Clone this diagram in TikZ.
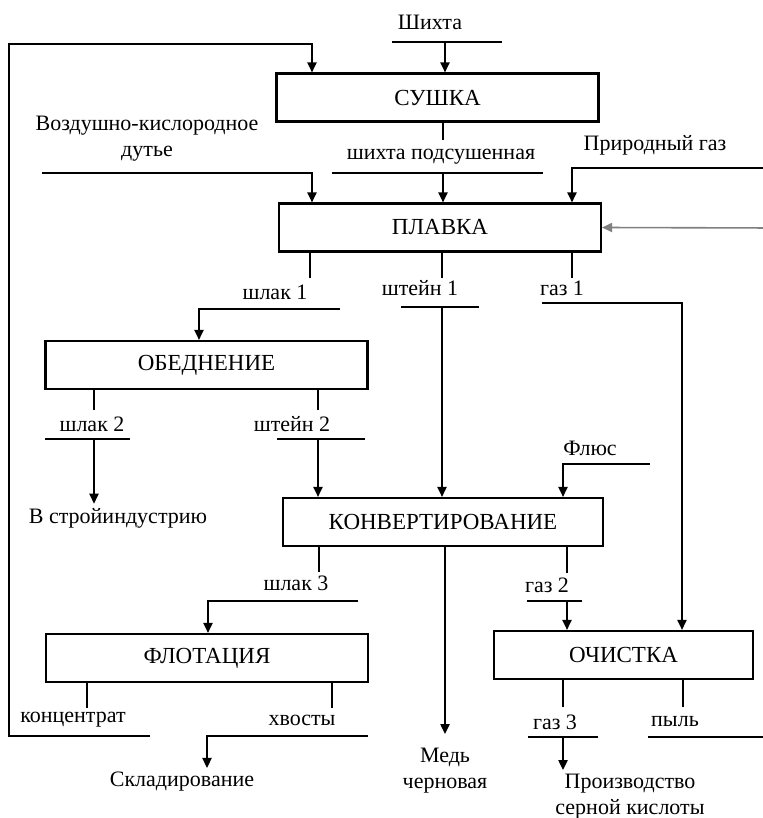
\documentclass[tikz,border=0pt]{standalone}
\usepackage{fontspec}
\setmainfont{Liberation Serif}
\usetikzlibrary{arrows.meta}

\begin{document}
\begin{tikzpicture}[
  x=0.5pt, y=-0.5pt,
  font=\fontsize{11}{13}\selectfont,
  box/.style={draw, line width=1.1pt, minimum width=161pt, minimum height=24pt, inner sep=0pt, font=\fontsize{11.5}{13}\selectfont},
  ln/.style={line width=0.8pt},
  arr/.style={-{Triangle[length=5pt,width=4.6pt]}},
  lbl/.style={inner sep=2pt, align=center}
]
\useasboundingbox (0,0) rectangle (763,818);
\clip (0,0) rectangle (763,818);

% process stages
\node[box] (sush) at (437.5,97.5) {СУШКА};
\node[box] (plav) at (440,227.5) {ПЛАВКА};
\node[box] (obed) at (206.5,365) {ОБЕДНЕНИЕ};
\node[box, minimum width=160pt] (konv) at (443,522) {КОНВЕРТИРОВАНИЕ};
\node[box] (flot) at (207,658) {ФЛОТАЦИЯ};
\node[box, minimum width=129.5pt] (ochi) at (623.5,655) {ОЧИСТКА};

% stream labels
\node[lbl] (shihta) at (430,22) {Шихта};
\node[lbl] (duty) at (147,139) {Воздушно-кислородное\\дутье};
\node[lbl] (podsush) at (441,157) {шихта подсушенная};
\node[lbl] (prgaz) at (655,145) {Природный газ};
\node[lbl] (shl1) at (275,292) {шлак 1};
\node[lbl] (sht1) at (420,288) {штейн 1};
\node[lbl] (gaz1) at (562,288) {газ 1};
\node[lbl] (shl2) at (92,424) {шлак 2};
\node[lbl] (sht2) at (292,424) {штейн 2};
\node[lbl] (flus) at (590,448) {Флюс};
\node[lbl] (shl3) at (296,583) {шлак 3};
\node[lbl] (gaz2) at (547,585) {газ 2};
\node[lbl] (konc) at (73,720) {концентрат};
\node[lbl] (hvost) at (302,720) {хвосты};
\node[lbl] (gaz3) at (555,722) {газ 3};
\node[lbl] (pyl) at (675,722) {пыль};

% products
\node[lbl] (stroy) at (118,518) {В стройиндустрию};
\node[lbl] (sklad) at (182,782) {Складирование};
\node[lbl] (med) at (445,771) {Медь\\черновая};
\node[lbl] (proizv) at (630,797) {Производство\\серной кислоты};

% stub ends under the boxes
\coordinate (s0) at (443,140);
\coordinate (p1) at (310,278);
\coordinate (p2) at (442,278);
\coordinate (p3) at (572,278);
\coordinate (o1) at (94,410);
\coordinate (o2) at (318,410);
\coordinate (k1) at (319,572);
\coordinate (k2) at (445,546);
\coordinate (k3) at (567,573);
\coordinate (f1) at (87,708);
\coordinate (f2) at (332,708);
\coordinate (c1) at (563,707);
\coordinate (c2) at (683,707);

% bars under the labels
\coordinate (shL) at (392,42);   \coordinate (shR) at (502,42);   \coordinate (shA) at (445,42);
\coordinate (dL) at (42,173);    \coordinate (dA) at (312,173);
\coordinate (psL) at (332,173);  \coordinate (psR) at (543,173);
\coordinate (pgR) at (775,168);  \coordinate (pgA) at (572,168);
\coordinate (b1R) at (340,309);  \coordinate (b1A) at (199,309);
\coordinate (b2L) at (401,307);  \coordinate (b2R) at (479,307);
\coordinate (b3L) at (542,303);  \coordinate (b3A) at (682,303);
\coordinate (b4L) at (45,439);   \coordinate (b4R) at (130,439);
\coordinate (b5L) at (277,439);  \coordinate (b5R) at (365,439);
\coordinate (flR) at (650,464);  \coordinate (flA) at (563,464);
\coordinate (b6R) at (358,601);  \coordinate (b6A) at (208,601);
\coordinate (b7L) at (527,601);  \coordinate (b7R) at (582,601);
\coordinate (b8R) at (150,736);  \coordinate (lpB) at (9,736);
\coordinate (lpT) at (9,44);     \coordinate (lpA) at (312,44);
\coordinate (b9R) at (368,736);  \coordinate (b9A) at (207,736);
\coordinate (bAL) at (528,737);  \coordinate (bAR) at (598,737);
\coordinate (bBL) at (648,737);  \coordinate (rtB) at (775,737);
\coordinate (rtT) at (775,228);

% feeds into СУШКА
\draw[ln] (shL) -- (shR);
\draw[ln,arr] (shA) -- (shA |- sush.north);
\draw[ln,arr] (b8R) -- (lpB) -- (lpT) -- (lpA) -- (lpA |- sush.north);

% feeds into ПЛАВКА
\draw[ln,arr] (dL) -- (dA) -- (dA |- plav.north);
\draw[ln] (s0 |- sush.south) -- (s0);
\draw[ln] (psL) -- (psR);
\draw[ln,arr] (s0 |- psL) -- (s0 |- plav.north);
\draw[ln,arr] (pgR) -- (pgA) -- (pgA |- plav.north);
\draw[ln] (bBL) -- (rtB) -- (rtT);
\draw[ln,arr,gray] (rtT) -- (plav.east);

% ПЛАВКА outputs
\draw[ln] (p1 |- plav.south) -- (p1);
\draw[ln,arr] (b1R) -- (b1A) -- (b1A |- obed.north);
\draw[ln] (p2 |- plav.south) -- (p2);
\draw[ln] (b2L) -- (b2R);
\draw[ln,arr] (p2 |- b2L) -- (p2 |- konv.north);
\draw[ln] (p3 |- plav.south) -- (p3);
\draw[ln,arr] (b3L) -- (b3A) -- (b3A |- ochi.north);

% ОБЕДНЕНИЕ outputs
\draw[ln] (o1 |- obed.south) -- (o1);
\draw[ln] (b4L) -- (b4R);
\draw[ln,arr] (o1 |- b4L) -- (o1 |- stroy.north);
\draw[ln] (o2 |- obed.south) -- (o2);
\draw[ln] (b5L) -- (b5R);
\draw[ln,arr] (o2 |- b5L) -- (o2 |- konv.north);
\draw[ln,arr] (flR) -- (flA) -- (flA |- konv.north);

% КОНВЕРТИРОВАНИЕ outputs
\draw[ln] (k1 |- konv.south) -- (k1);
\draw[ln,arr] (b6R) -- (b6A) -- (b6A |- flot.north);
\draw[ln,arr] (k2) -- ([yshift=5pt]med.north);
\draw[ln] (k3 |- konv.south) -- (k3);
\draw[ln] (b7L) -- (b7R);
\draw[ln,arr] (k3 |- b7L) -- (k3 |- ochi.north);

% ФЛОТАЦИЯ and ОЧИСТКА outputs
\draw[ln] (f1 |- flot.south) -- (f1);
\draw[ln] (f2 |- flot.south) -- (f2);
\draw[ln,arr] (b9R) -- (b9A) -- (b9A |- sklad.north);
\draw[ln] (c1 |- ochi.south) -- (c1);
\draw[ln] (bAL) -- (bAR);
\draw[ln,arr] (c1 |- bAL) -- (c1 |- proizv.north);
\draw[ln] (c2 |- ochi.south) -- (c2);
\end{tikzpicture}
\end{document}
